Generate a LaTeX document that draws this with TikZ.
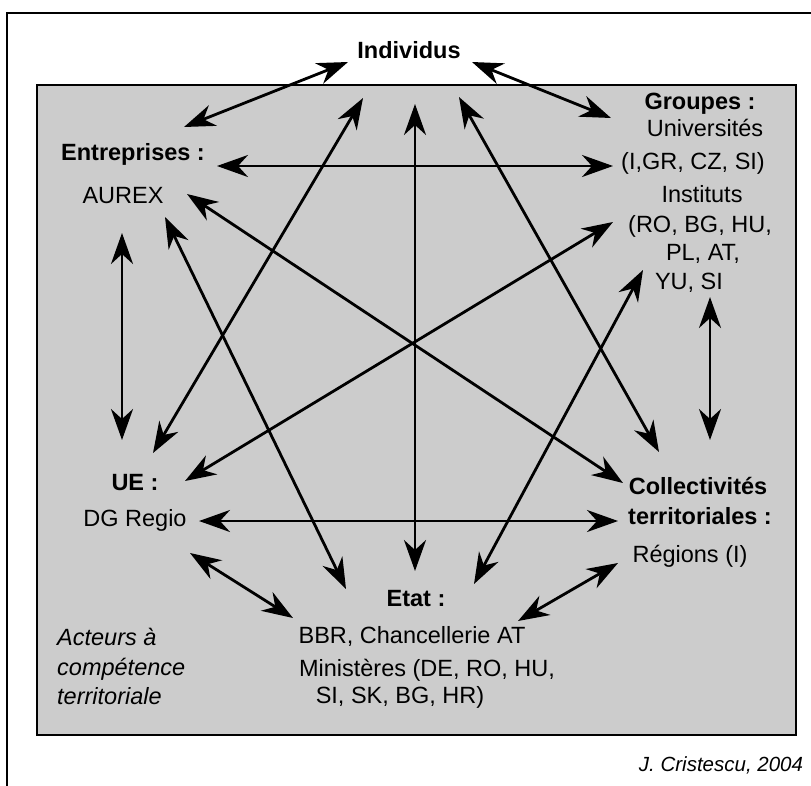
\documentclass[tikz,border=0pt]{standalone}
\usepackage{fontspec}
\setmainfont{Liberation Sans}
\usetikzlibrary{arrows.meta}
\definecolor{boxgray}{RGB}{204,204,204}

\begin{document}
\begin{tikzpicture}[x=1pt,y=-1pt,
    lbl/.style={inner sep=0pt,text height=17pt,text depth=5pt,font=\fontsize{23.5}{28}\selectfont},
    head/.style={lbl,font=\fontsize{23.5}{28}\selectfont\bfseries},
    note/.style={lbl,anchor=west,font=\fontsize{23.5}{28}\selectfont\itshape},
    link/.style={line width=2.8pt,{Stealth[length=31pt,width=22pt,inset=10pt]}-{Stealth[length=31pt,width=22pt,inset=10pt]}}]
        \useasboundingbox (0,0) rectangle (811,785);

        % frame (cut at right and bottom) and grey field
        \draw[line width=2.8pt] (7,790) -- (7,13) -- (815,13);
        \draw[line width=2.8pt,fill=boxgray] (37,85) rectangle (796,735);

        % actors
        \node[head] (ind) at (409,52) {Individus};

        \node[head] (ent) at (133,154) {Entreprises :};
        \node[lbl] (aurex) at (123,197) {AUREX};

        \node[head] (grp) at (700,103) {Groupes :};
        \node[lbl] (univ) at (705,130) {Universités};
        \node[lbl] (univl) at (693,163) {(I,GR, CZ, SI)};
        \node[lbl] (inst) at (702,196) {Instituts};
        \node[lbl] (instl1) at (700,226) {(RO, BG, HU,};
        \node[lbl] (instl2) at (703,254) {PL, AT,};
        \node[lbl] (instl3) at (689,283) {YU, SI};

        \node[head] (ue) at (135,484) {UE :};
        \node[lbl] (dg) at (135,520) {DG Regio};

        \node[head] (coll) at (698,488) {Collectivités};
        \node[head] (colll) at (700,518) {territoriales :};
        \node[lbl] (reg) at (690,556) {Régions (I)};

        \node[head] (etat) at (416,600) {Etat :};
        \node[lbl] (bbr) at (412,637) {BBR, Chancellerie AT};
        \node[lbl] (min1) at (427,670) {Ministères (DE, RO, HU,};
        \node[lbl] (min2) at (400,697) {SI, SK, BG, HR)};

        \node[note] (act1) at (57,639) {Acteurs à};
        \node[note] (act2) at (57,669) {compétence};
        \node[note] (act3) at (57,698) {territoriale};

        \node[lbl,font=\fontsize{20.5}{24}\selectfont\itshape] (src) at (721,765) {J. Cristescu, 2004};

        % arrow ends
        \coordinate (IndL) at (348,62);   \coordinate (EntT) at (184,127);
        \coordinate (IndR) at (472,62);   \coordinate (GrpT) at (611,118);
        \coordinate (EntR) at (217,166);  \coordinate (UnivL) at (613,166);
        \coordinate (AurR) at (187,194);  \coordinate (CollT) at (623,483);
        \coordinate (AurB) at (122,233);  \coordinate (UeT) at (122,440);
        \coordinate (GrpB) at (710,297);  \coordinate (CollR) at (710,440);
        \coordinate (UeR) at (185,481);   \coordinate (InstL) at (613,222);
        \coordinate (IndA) at (363,98);   \coordinate (UeA) at (153,453);
        \coordinate (IndB) at (415,104);  \coordinate (EtatT) at (415,571);
        \coordinate (IndC) at (459,97);   \coordinate (CollA) at (659,452);
        \coordinate (AurC) at (165,217);  \coordinate (EtatL) at (346,589);
        \coordinate (EtatR) at (474,584); \coordinate (InstB) at (643,270);
        \coordinate (DgR) at (199,521);   \coordinate (CollL) at (618,521);
        \coordinate (DgB) at (190,553);   \coordinate (EtatA) at (293,618);
        \coordinate (EtatB) at (518,621); \coordinate (RegL) at (618,563);

        \draw[link] (IndL) -- (EntT);
        \draw[link] (IndR) -- (GrpT);
        \draw[link] (EntR) -- (UnivL);
        \draw[link] (AurR) -- (CollT);
        \draw[link] (AurB) -- (UeT);
        \draw[link] (GrpB) -- (CollR);
        \draw[link] (UeR) -- (InstL);
        \draw[link] (IndA) -- (UeA);
        \draw[link] (IndB) -- (EtatT);
        \draw[link] (IndC) -- (CollA);
        \draw[link] (AurC) -- (EtatL);
        \draw[link] (EtatR) -- (InstB);
        \draw[link] (DgR) -- (CollL);
        \draw[link] (DgB) -- (EtatA);
        \draw[link] (EtatB) -- (RegL);
    \end{tikzpicture}
\end{document}
